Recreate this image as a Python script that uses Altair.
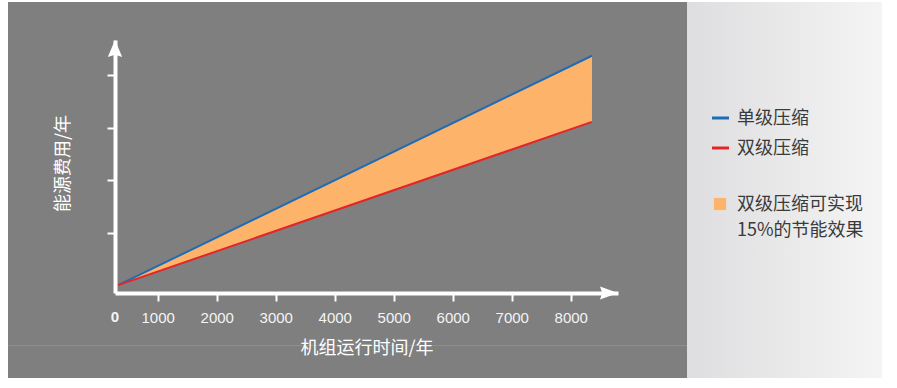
import altair as alt
import pandas as pd

# Operating hours per year and annual energy cost (relative units)
hours = [330, 8360]
cost_single_stage = [0.0, 4.37]
cost_double_stage = [0.0, 3.11]

series_names = ["单级压缩", "双级压缩"]
series_colors = ["#1f6cb4", "#e42528"]
saving_color = "#fdb46a"
saving_lines = ["双级压缩可实现", "15%的节能效果"]

x_ticks = [1000, 2000, 3000, 4000, 5000, 6000, 7000, 8000]
y_ticks = [1, 2, 3, 4]
X_DOMAIN = [276, 8801]
Y_DOMAIN = [-0.149, 4.67]

x_title = "机组运行时间/年"
y_title = "能源费用/年"

CJK = "Noto Sans CJK SC"
LATIN = "Liberation Sans"
BG = "#7f7f80"

W, H = 503, 253

df = pd.DataFrame({
    "hours": hours,
    "single": cost_single_stage,
    "double": cost_double_stage,
})

x_scale = alt.Scale(domain=X_DOMAIN, nice=False, zero=False)
y_scale = alt.Scale(domain=Y_DOMAIN, nice=False, zero=False)

x_axis = alt.Axis(
    values=x_ticks, format="d", grid=False, domainColor="white", domainWidth=4,
    tickColor="white", tickWidth=2, tickSize=8, zindex=1,
    labelColor="#f4f4f4", labelFont=LATIN, labelFontSize=15,
    labelBaseline="middle", labelPadding=16,
    title=x_title, titleFont=CJK, titleFontSize=18, titleFontWeight="normal",
    titleColor="white", titleY=55, titleBaseline="middle",
)
y_axis = alt.Axis(
    values=y_ticks, grid=False, labels=False, domainColor="white", domainWidth=4,
    tickColor="white", tickWidth=2, tickSize=8, zindex=1,
    title=y_title, titleFont=CJK, titleFontSize=18, titleFontWeight="normal",
    titleColor="white", titleX=-52, titleY=123, titleBaseline="middle",
    titleAngle=270,
)

# panel backgrounds
panel = alt.Chart(pd.DataFrame({"k": [0]})).mark_rect(fill=BG).encode(
    x=alt.value(-107), x2=alt.value(572), y=alt.value(-38), y2=alt.value(338)
)
side = alt.Chart(pd.DataFrame({"k": [0]})).mark_rect(
    fill=alt.Gradient(
        gradient="linear",
        stops=[alt.GradientStop(color="#dedee0", offset=0),
               alt.GradientStop(color="#f4f4f4", offset=1)],
        x1=0, x2=1, y1=0, y2=0,
    )
).encode(x=alt.value(572), x2=alt.value(767), y=alt.value(-38), y2=alt.value(338))
divider = alt.Chart(pd.DataFrame({"k": [0]})).mark_rule(
    color="#8e8e8f", strokeWidth=1
).encode(x=alt.value(-107), x2=alt.value(572), y=alt.value(305.5))

band = alt.Chart(df).mark_area(color=saving_color, opacity=1).encode(
    x=alt.X("hours:Q", scale=x_scale, axis=x_axis),
    y=alt.Y("single:Q", scale=y_scale, axis=y_axis),
    y2="double:Q",
)
line_single = alt.Chart(df).mark_line(color=series_colors[0], strokeWidth=2).encode(
    x=alt.X("hours:Q", scale=x_scale), y=alt.Y("single:Q", scale=y_scale)
)
line_double = alt.Chart(df).mark_line(color=series_colors[1], strokeWidth=2).encode(
    x=alt.X("hours:Q", scale=x_scale), y=alt.Y("double:Q", scale=y_scale)
)

# arrow heads at the ends of both axes
arrow_x = alt.Chart(pd.DataFrame({"k": [0]})).mark_point(
    shape="M0,0L-2,-0.72L-1.75,0L-2,0.72Z", size=324, filled=True,
    color="white", opacity=1, strokeWidth=0,
).encode(x=alt.datum(X_DOMAIN[1], scale=x_scale), y=alt.datum(Y_DOMAIN[0], scale=y_scale))
arrow_y = alt.Chart(pd.DataFrame({"k": [0]})).mark_point(
    shape="M0,0L0.8,1.9L0,1.65L-0.8,1.9Z", size=324, filled=True,
    color="white", opacity=1, strokeWidth=0,
).encode(x=alt.datum(X_DOMAIN[0], scale=x_scale), y=alt.datum(Y_DOMAIN[1], scale=y_scale))
zero_label = alt.Chart(pd.DataFrame({"k": [0]})).mark_text(
    text="0", font=LATIN, fontSize=15, fontWeight="bold", color="#f4f4f4",
    baseline="middle", align="center",
).encode(x=alt.datum(X_DOMAIN[0], scale=x_scale), y=alt.value(277))

# legend
legend_layers = []
for i, (name, col) in enumerate(zip(series_names, series_colors)):
    yy = 78 + i * 30
    legend_layers.append(
        alt.Chart(pd.DataFrame({"k": [0]})).mark_rule(color=col, strokeWidth=3).encode(
            x=alt.value(597), x2=alt.value(614), y=alt.value(yy)
        )
    )
    legend_layers.append(
        alt.Chart(pd.DataFrame({"k": [0]})).mark_text(
            text=name, font=CJK, fontSize=18, color="#3a3a3a",
            align="left", baseline="middle",
        ).encode(x=alt.value(622), y=alt.value(yy + 1))
    )
legend_layers.append(
    alt.Chart(pd.DataFrame({"k": [0]})).mark_square(
        color=saving_color, size=150, opacity=1, filled=True
    ).encode(x=alt.value(605), y=alt.value(164))
)
for j, line in enumerate(saving_lines):
    legend_layers.append(
        alt.Chart(pd.DataFrame({"k": [0]})).mark_text(
            text=line, font=CJK, fontSize=18, color="#3a3a3a",
            align="left", baseline="middle",
        ).encode(x=alt.value(622), y=alt.value(165 + j * 26))
    )

chart = alt.layer(
    panel, side, divider, band, line_single, line_double,
    arrow_x, arrow_y, zero_label, *legend_layers,
).properties(
    width=W, height=H,
    autosize=alt.AutoSizeParams(type="none"),
    padding={"left": 115, "top": 40, "right": 279, "bottom": 95},
    background="white",
).configure_view(stroke=None)

chart.save("out.html", embed_options={"renderer": "svg", "actions": False})
